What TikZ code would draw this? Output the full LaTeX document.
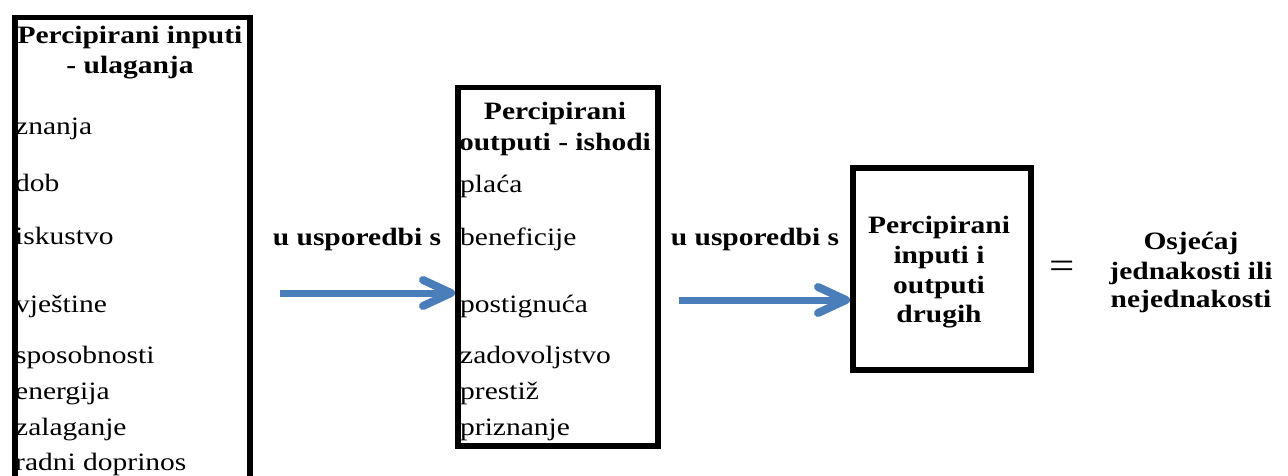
\documentclass[tikz,border=0pt]{standalone}
\usepackage{fontspec}
\setmainfont{Liberation Serif}[FakeStretch=1.18]
\usetikzlibrary{arrows.meta}
\definecolor{arrowblue}{RGB}{74,126,187}
\begin{document}
\begin{tikzpicture}[x=1pt,y=-1pt,
  frame/.style={draw=black, line width=5.5pt, fill=none, inner sep=0pt, anchor=north west},
  item/.style={anchor=base west, inner sep=0pt, font=\fontsize{25}{30}\selectfont},
  head/.style={anchor=base, inner sep=0pt, font=\fontsize{25}{30}\selectfont\bfseries},
  flow/.style={draw=arrowblue, line width=7pt, -{Straight Barb[length=28pt,width=26pt,round,line width=8pt]}}]
\useasboundingbox (0,0) rectangle (1288,476);
\clip (0,0) rectangle (1288,476);
% boxes
\node[frame, minimum width=235pt, minimum height=520pt] (inbox) at (12,15) {};
\node[frame, minimum width=200pt, minimum height=358pt] (outbox) at (455,85) {};
\node[frame, line width=6pt, minimum width=178pt, minimum height=202pt] (othbox) at (850,165) {};
% box 1 texts
\node[head] (h1a) at (130,44) {Percipirani inputi};
\node[head] (h1b) at (130,74) {- ulaganja};
\node[item] (i1) at (15,135) {znanja};
\node[item] (i2) at (15,191) {dob};
\node[item] (i3) at (15,244) {iskustvo};
\node[item] (i4) at (15,312) {vještine};
\node[item] (i5) at (15,363) {sposobnosti};
\node[item] (i6) at (15,399) {energija};
\node[item] (i7) at (15,435) {zalaganje};
\node[item] (i8) at (15,470) {radni doprinos};
% box 2 texts
\node[head] (h2a) at (555,120) {Percipirani};
\node[head] (h2b) at (555,150) {outputi - ishodi};
\node[item] (o1) at (460,192) {plaća};
\node[item] (o2) at (460,245) {beneficije};
\node[item] (o3) at (460,312) {postignuća};
\node[item] (o4) at (460,363) {zadovoljstvo};
\node[item] (o5) at (460,399) {prestiž};
\node[item] (o6) at (460,435) {priznanje};
% box 3 texts
\node[head] (h3a) at (939,233) {Percipirani};
\node[head] (h3b) at (939,263) {inputi i};
\node[head] (h3c) at (939,293) {outputi};
\node[head] (h3d) at (939,322) {drugih};
% comparison labels
\node[head] (c1) at (357,245) {u usporedbi s};
\node[head] (c2) at (755,245) {u usporedbi s};
% equals and result
\node[inner sep=0pt, font=\fontsize{38}{38}\selectfont] (eq) at (1062,270) {=};
\node[head] (r1) at (1191,249) {Osjećaj};
\node[head] (r2) at (1191,279) {jednakosti ili};
\node[head] (r3) at (1191,307) {nejednakosti};
% arrows
\coordinate (a1) at (280,293);
\coordinate (a2) at (679,300);
\draw[flow] (a1) -- (a1 -| outbox.west);
\draw[flow] (a2) -- (a2 -| othbox.west);
\end{tikzpicture}
\end{document}
